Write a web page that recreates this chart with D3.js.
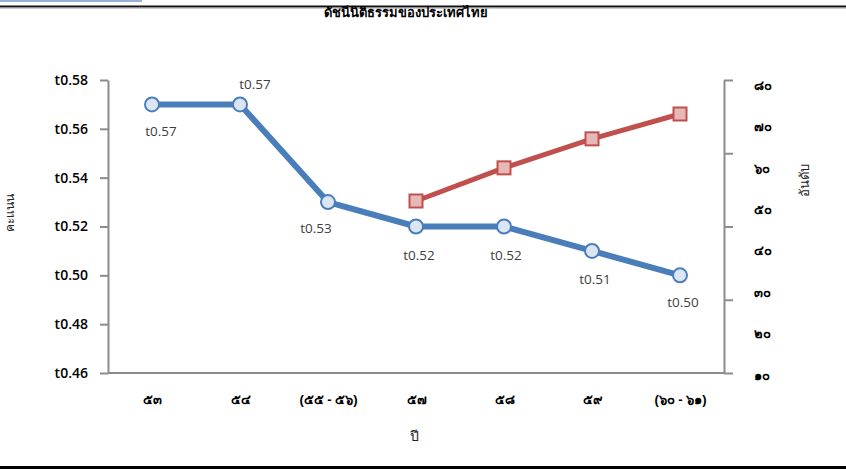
<!DOCTYPE html>
<html>
<head>
<meta charset="utf-8">
<script src="https://cdn.jsdelivr.net/npm/d3@7"></script>
<style>
  html, body { margin: 0; padding: 0; background: #fff; }
  svg { display: block; }
</style>
</head>
<body>
<div id="chart"></div>
<script>
// ---- data ----
const categories = ["๕๓", "๕๔", "(๕๕ - ๕๖)", "๕๗", "๕๘", "๕๙", "(๖๐ - ๖๑)"];
const scoreValues = [0.57, 0.57, 0.53, 0.52, 0.52, 0.51, 0.50];
const scoreLabels = ["t0.57", "t0.57", "t0.53", "t0.52", "t0.52", "t0.51", "t0.50"];
const rankCategories = ["๕๗", "๕๘", "๕๙", "(๖๐ - ๖๑)"];
const rankValues = [52, 60, 67, 73];
const leftTicks = [0.46, 0.48, 0.50, 0.52, 0.54, 0.56, 0.58];
const leftTickLabels = ["t0.46", "t0.48", "t0.50", "t0.52", "t0.54", "t0.56", "t0.58"];
const rightTicks = [10, 20, 30, 40, 50, 60, 70, 80];
const rightTickLabels = ["๑๐", "๒๐", "๓๐", "๔๐", "๕๐", "๖๐", "๗๐", "๘๐"];
const titleText = "ดัชนีนิติธรรมของประเทศไทย";
const xTitle = "ปี";
const yLeftTitle = "คะแนน";
const yRightTitle = "อันดับ";

// ---- layout ----
const W = 846, H = 469;
const plot = { left: 108, right: 724, top: 80, bottom: 373 };
// data label offsets (dx, dy) relative to each point
const labelOffsets = [[9, 27], [15, -20], [-12, 26], [3, 29], [2, 29], [3, 28], [3, 27]];

const svg = d3.select("#chart").append("svg")
  .attr("width", W).attr("height", H)
  .style("font-family", "'Open Sans', 'Noto Sans', sans-serif");

svg.append("rect").attr("width", W).attr("height", H).attr("fill", "#fff");

// decorations
svg.append("rect").attr("x", 0).attr("y", 0).attr("width", 142).attr("height", 2).attr("fill", "#95b3d7");
svg.append("rect").attr("x", 0).attr("y", 5.5).attr("width", W).attr("height", 2).attr("fill", "#111");
svg.append("rect").attr("x", 0).attr("y", 7.5).attr("width", W).attr("height", 1).attr("fill", "#999");
svg.append("rect").attr("x", 0).attr("y", 466).attr("width", W).attr("height", 3).attr("fill", "#000");

// scales
const x = d3.scalePoint().domain(categories).range([plot.left, plot.right]).padding(0.5);
const yL = d3.scaleLinear().domain([0.46, 0.58]).range([plot.bottom, plot.top]);
const yR = d3.scaleLinear().domain([10, 80]).range([375, 85]);
const yRTickPos = d3.scaleLinear().domain([0, 4]).range([plot.bottom, plot.top]);

const axisColor = "#8c8c8c";

// left axis
const gL = svg.append("g").attr("transform", `translate(${plot.left},0)`)
  .call(d3.axisLeft(yL).tickValues(leftTicks)
    .tickFormat((d, i) => leftTickLabels[i]).tickSize(8).tickSizeOuter(0).tickPadding(12));
gL.select(".domain").attr("stroke", axisColor).attr("stroke-width", 2);
gL.selectAll(".tick line").attr("stroke", axisColor).attr("stroke-width", 2);
gL.selectAll(".tick text").attr("fill", "#000").style("font-size", "14px").style("font-weight", "600")
  .style("font-family", "'Open Sans', sans-serif");

// right axis: tick marks
const gRT = svg.append("g").attr("transform", `translate(${plot.right},0)`)
  .call(d3.axisRight(yRTickPos).tickValues([0, 1, 2, 3, 4]).tickFormat("").tickSize(9).tickSizeOuter(0));
gRT.select(".domain").attr("stroke", axisColor).attr("stroke-width", 2);
gRT.selectAll(".tick line").attr("stroke", axisColor).attr("stroke-width", 2);

// right axis: labels
const gR = svg.append("g").attr("transform", `translate(${plot.right},0)`)
  .call(d3.axisRight(yR).tickValues(rightTicks).tickFormat((d, i) => rightTickLabels[i]).tickSize(0).tickPadding(30));
gR.select(".domain").remove();
gR.selectAll(".tick text").attr("fill", "#000").style("font-size", "13px").style("font-weight", "bold");

// bottom axis
const gB = svg.append("g").attr("transform", `translate(0,${plot.bottom})`)
  .call(d3.axisBottom(x).tickSize(0).tickPadding(22));
gB.select(".domain").attr("stroke", axisColor).attr("stroke-width", 2)
  .attr("d", `M${plot.left},0H${plot.right}`);
gB.selectAll(".tick text").attr("fill", "#000").style("font-size", "13px").style("font-weight", "bold");

// titles
svg.append("text").attr("x", 406).attr("y", 17).attr("text-anchor", "middle")
  .style("font-size", "13px").style("font-weight", "bold").attr("fill", "#000")
  .text(titleText);
svg.append("text").attr("x", 414).attr("y", 441).attr("text-anchor", "middle")
  .style("font-size", "14px").attr("fill", "#222").text(xTitle);
svg.append("text").attr("transform", "translate(14,213) rotate(-90)").attr("text-anchor", "middle")
  .style("font-size", "12px").attr("fill", "#222").text(yLeftTitle);
svg.append("text").attr("transform", "translate(809,180) rotate(-90)").attr("text-anchor", "middle")
  .style("font-size", "13px").attr("fill", "#222").text(yRightTitle);

// blue score line
const blue = "#4a7ebb";
const lineL = d3.line().x((d, i) => x(categories[i])).y(d => yL(d));
svg.append("path").datum(scoreValues).attr("d", lineL)
  .attr("fill", "none").attr("stroke", blue).attr("stroke-width", 6).attr("stroke-linejoin", "round");
svg.selectAll("circle.score").data(scoreValues).enter().append("circle")
  .attr("class", "score")
  .attr("cx", (d, i) => x(categories[i])).attr("cy", d => yL(d)).attr("r", 7)
  .attr("fill", "#dce6f2").attr("stroke", blue).attr("stroke-width", 2);

// red rank line
const red = "#c0504d";
const lineR = d3.line().x((d, i) => x(rankCategories[i])).y(d => yR(d));
svg.append("path").datum(rankValues).attr("d", lineR)
  .attr("fill", "none").attr("stroke", red).attr("stroke-width", 5).attr("stroke-linejoin", "round");
const sq = 13;
svg.selectAll("rect.rank").data(rankValues).enter().append("rect")
  .attr("class", "rank")
  .attr("x", (d, i) => x(rankCategories[i]) - sq / 2).attr("y", d => yR(d) - sq / 2)
  .attr("width", sq).attr("height", sq)
  .attr("fill", "#e6b9b8").attr("stroke", red).attr("stroke-width", 2);

// data labels
svg.selectAll("text.dl").data(scoreValues).enter().append("text")
  .attr("class", "dl")
  .attr("x", (d, i) => x(categories[i]) + labelOffsets[i][0])
  .attr("y", (d, i) => yL(d) + labelOffsets[i][1])
  .attr("text-anchor", "middle").attr("dy", "0.35em")
  .style("font-size", "13.5px").attr("fill", "#404040")
  .text((d, i) => scoreLabels[i]);
</script>
</body>
</html>
